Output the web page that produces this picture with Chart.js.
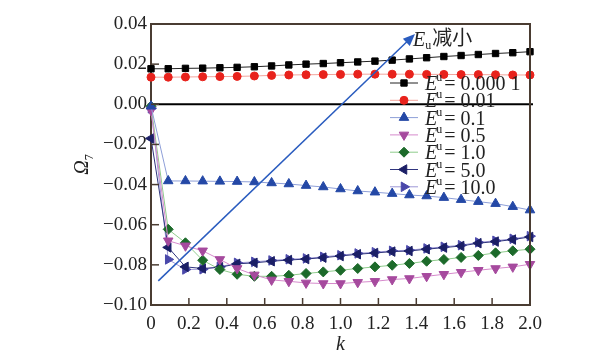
<!DOCTYPE html>
<html><head><meta charset="utf-8">
<script src="https://cdn.jsdelivr.net/npm/chart.js@4/dist/chart.umd.min.js"></script>
<style>html,body{margin:0;padding:0;background:#fff;}#wrap{width:601px;height:361px;position:relative;}</style>
</head><body><div id="wrap"><canvas id="c"></canvas></div>
<script>
// ---- data ----
const kValues = [0,0.0909,0.1818,0.2727,0.3636,0.4545,0.5455,0.6364,0.7273,0.8182,0.9091,1.0,1.0909,1.1818,1.2727,1.3636,1.4545,1.5455,1.6364,1.7273,1.8182,1.9091,2.0];
const eu00001 = [0.0177,0.0177,0.0179,0.0180,0.0182,0.0184,0.0187,0.0191,0.0196,0.0200,0.0203,0.0207,0.0211,0.0215,0.0220,0.0226,0.0232,0.0238,0.0243,0.0248,0.0253,0.0257,0.0262];
const eu001 = [0.0135,0.0135,0.0136,0.0137,0.0138,0.0139,0.0141,0.0144,0.0146,0.0147,0.0148,0.0149,0.0150,0.0150,0.0150,0.0150,0.0149,0.0149,0.0148,0.0148,0.0147,0.0146,0.0146];
const eu01 = [-0.001,-0.0382,-0.0382,-0.0383,-0.0384,-0.0385,-0.0387,-0.0392,-0.0397,-0.0405,-0.0412,-0.0422,-0.0432,-0.0438,-0.0445,-0.0452,-0.0457,-0.0465,-0.0475,-0.0485,-0.0495,-0.0510,-0.0527];
const eu05 = [-0.003,-0.0680,-0.0705,-0.0730,-0.0773,-0.0818,-0.0850,-0.0875,-0.0882,-0.0890,-0.0893,-0.0893,-0.0887,-0.0882,-0.0873,-0.0868,-0.0857,-0.0847,-0.0837,-0.0827,-0.0818,-0.0810,-0.0797];
const eu10 = [-0.001,-0.0623,-0.0690,-0.0777,-0.0823,-0.0847,-0.0857,-0.0857,-0.0852,-0.0843,-0.0835,-0.0827,-0.0818,-0.0810,-0.0802,-0.0793,-0.0782,-0.0773,-0.0763,-0.0753,-0.0740,-0.0730,-0.0722];
const eu50 = [-0.017,-0.0713,-0.0810,-0.0818,-0.0812,-0.0795,-0.0790,-0.0782,-0.0776,-0.0771,-0.0764,-0.0756,-0.0747,-0.0741,-0.0734,-0.0731,-0.0722,-0.0714,-0.0706,-0.0692,-0.0684,-0.0674,-0.0661];
const eu100 = [-0.002,-0.0773,-0.0823,-0.0822,-0.0810,-0.0790,-0.0785,-0.0778,-0.0772,-0.0768,-0.0760,-0.0752,-0.0743,-0.0737,-0.0730,-0.0727,-0.0718,-0.0710,-0.0702,-0.0688,-0.0680,-0.0670,-0.0657];
const legendValues = ['0.000 1','0.01','0.1','0.5','1.0','5.0','10.0'];
const xTickValues = [0,0.2,0.4,0.6,0.8,1.0,1.2,1.4,1.6,1.8,2.0];
const yTickValues = [0.04,0.02,0.00,-0.02,-0.04,-0.06,-0.08,-0.10];
const arrowFrom = [0.0385,-0.088];
const arrowTo = [1.393,0.035];

// ---- styles ----
const seriesData = [eu00001,eu001,eu01,eu05,eu10,eu50,eu100];
const styles = [
  {line:'#222222', marker:'#000000', style:'rect', rot:0, r:4.5},
  {line:'#f3a49c', marker:'#e8221c', style:'circle', rot:0, r:4},
  {line:'#8e9fd8', marker:'#2448a6', style:'triangle', rot:0, r:5.5},
  {line:'#d68acc', marker:'#a64a9e', style:'triangle', rot:180, r:5.5},
  {line:'#8fcc8c', marker:'#1c6a2a', style:'rectRot', rot:0, r:5},
  {line:'#30357e', marker:'#1b1f66', style:'triangle', rot:-90, r:5.5},
  {line:'#9d98d6', marker:'#4a48aa', style:'triangle', rot:90, r:5.5}
];
const FRAME = '#4a3c32';
const SERIF = '"Liberation Serif","DejaVu Serif",serif';

const datasets = seriesData.map((vals,i)=>({
  label: 'E' + legendValues[i],
  data: kValues.map((k,j)=>({x:k,y:vals[j]})),
  borderColor: styles[i].line,
  backgroundColor: styles[i].marker,
  pointBackgroundColor: styles[i].marker,
  pointBorderColor: styles[i].marker,
  pointStyle: styles[i].style,
  pointRotation: styles[i].rot,
  pointRadius: styles[i].r,
  pointBorderWidth: 1,
  borderWidth: 1,
  tension: 0,
  showLine: true,
  clip: false
}));

const decor = {
  id:'decor',
  beforeDatasetsDraw(chart){
    const {ctx, chartArea:a, scales:{x,y}} = chart;
    ctx.save();
    ctx.strokeStyle='#000'; ctx.lineWidth=2;
    const y0=y.getPixelForValue(0);
    ctx.beginPath(); ctx.moveTo(a.left,y0); ctx.lineTo(a.right+3,y0); ctx.stroke();
    ctx.restore();
  },
  afterDatasetsDraw(chart){
    const {ctx, chartArea:a, scales:{x,y}} = chart;
    ctx.save();
    ctx.strokeStyle=FRAME; ctx.lineWidth=2;
    ctx.beginPath(); ctx.moveTo(a.left,a.top); ctx.lineTo(a.right,a.top); ctx.lineTo(a.right,a.bottom); ctx.stroke();
    ctx.lineWidth=1.5;
    yTickValues.forEach(v=>{const p=y.getPixelForValue(v); ctx.beginPath(); ctx.moveTo(a.left,p); ctx.lineTo(a.left+8,p); ctx.stroke();});
    xTickValues.forEach(v=>{const p=x.getPixelForValue(v); ctx.beginPath(); ctx.moveTo(p,a.bottom); ctx.lineTo(p,a.bottom-7); ctx.stroke();});
    const x1=x.getPixelForValue(arrowFrom[0]), y1=y.getPixelForValue(arrowFrom[1]);
    const x2=x.getPixelForValue(arrowTo[0]), y2=y.getPixelForValue(arrowTo[1]);
    ctx.strokeStyle='#2a5cbf'; ctx.fillStyle='#2a5cbf'; ctx.lineWidth=1.5;
    const ang=Math.atan2(y2-y1,x2-x1);
    ctx.beginPath(); ctx.moveTo(x1,y1); ctx.lineTo(x2-8*Math.cos(ang),y2-8*Math.sin(ang)); ctx.stroke();
    ctx.beginPath(); ctx.moveTo(x2,y2);
    ctx.lineTo(x2-12*Math.cos(ang)+5*Math.sin(ang), y2-12*Math.sin(ang)-5*Math.cos(ang));
    ctx.lineTo(x2-12*Math.cos(ang)-5*Math.sin(ang), y2-12*Math.sin(ang)+5*Math.cos(ang));
    ctx.closePath(); ctx.fill();
    ctx.fillStyle='#222'; ctx.textBaseline='alphabetic'; ctx.textAlign='left';
    let tx=x2-2, ty=y2+12;
    ctx.font='italic 20px '+SERIF; ctx.fillText('E',tx,ty); tx+=ctx.measureText('E').width;
    ctx.font='12px '+SERIF; ctx.fillText('u',tx,ty+3); tx+=ctx.measureText('u').width+1;
    ctx.font='20px "Noto Sans CJK SC",sans-serif'; ctx.fillText('减小',tx,ty-1);
    const lx=a.left+239;
    styles.forEach((s,i)=>{
      const ry=a.top+59+i*17.3;
      ctx.strokeStyle=s.line; ctx.lineWidth=1;
      ctx.beginPath(); ctx.moveTo(lx,ry); ctx.lineTo(lx+28,ry); ctx.stroke();
      ctx.fillStyle=s.marker; ctx.strokeStyle=s.marker;
      Chart.helpers.drawPoint(ctx,{pointStyle:s.style,rotation:s.rot,radius:s.r,borderWidth:1},lx+14,ry);
      ctx.fillStyle='#222';
      let px=lx+35; const base=ry+7;
      ctx.font='italic 20px '+SERIF; ctx.fillText('E',px,base); px+=ctx.measureText('E').width-1;
      ctx.font='12px '+SERIF; ctx.fillText('u',px,base-9); px+=ctx.measureText('u').width+2;
      ctx.font='20px '+SERIF; ctx.fillText('= '+legendValues[i],px,base);
    });
    ctx.fillStyle='#222';
    ctx.font='italic 20px '+SERIF; ctx.textAlign='center';
    ctx.fillText('k',(a.left+a.right)/2,350);
    ctx.save(); ctx.translate(88,(a.top+a.bottom)/2); ctx.rotate(-Math.PI/2);
    ctx.textAlign='left';
    ctx.font='italic 20px '+SERIF; const w1=ctx.measureText('Ω').width;
    ctx.font='12px '+SERIF; const w2=ctx.measureText('7').width;
    let sx=-(w1+w2)/2;
    ctx.font='italic 20px '+SERIF; ctx.fillText('Ω',sx,0);
    ctx.font='12px '+SERIF; ctx.fillText('7',sx+w1,5);
    ctx.restore();
    ctx.restore();
  }
};

new Chart(document.getElementById('c'),{
  type:'scatter',
  data:{datasets},
  options:{
    responsive:true, maintainAspectRatio:false, animation:false,
    layout:{padding:{top:24,right:71,left:0,bottom:0}},
    plugins:{legend:{display:false},tooltip:{enabled:false}},
    scales:{
      x:{type:'linear',min:0,max:2,
        afterFit(s){s.height=56;},
        afterBuildTicks(s){s.ticks=xTickValues.map(v=>({value:v}));},
        ticks:{padding:8,color:'#222',font:{family:SERIF,size:19},maxRotation:0,
          callback:v=>v===0?'0':Number(v).toFixed(1)},
        grid:{display:true,drawOnChartArea:false,drawTicks:false},
        border:{display:true,color:FRAME,width:2}},
      y:{type:'linear',min:-0.10,max:0.04,
        afterFit(s){s.width=151;},
        afterBuildTicks(s){s.ticks=yTickValues.map(v=>({value:v}));},
        ticks:{padding:4,color:'#222',font:{family:SERIF,size:19},
          callback:v=>{const r=Math.round(v*100)/100; return (r<0?'\u2212':'')+Math.abs(r).toFixed(2);}},
        grid:{display:true,drawOnChartArea:false,drawTicks:false},
        border:{display:true,color:FRAME,width:2}}
    }
  },
  plugins:[decor]
});
</script></body></html>
